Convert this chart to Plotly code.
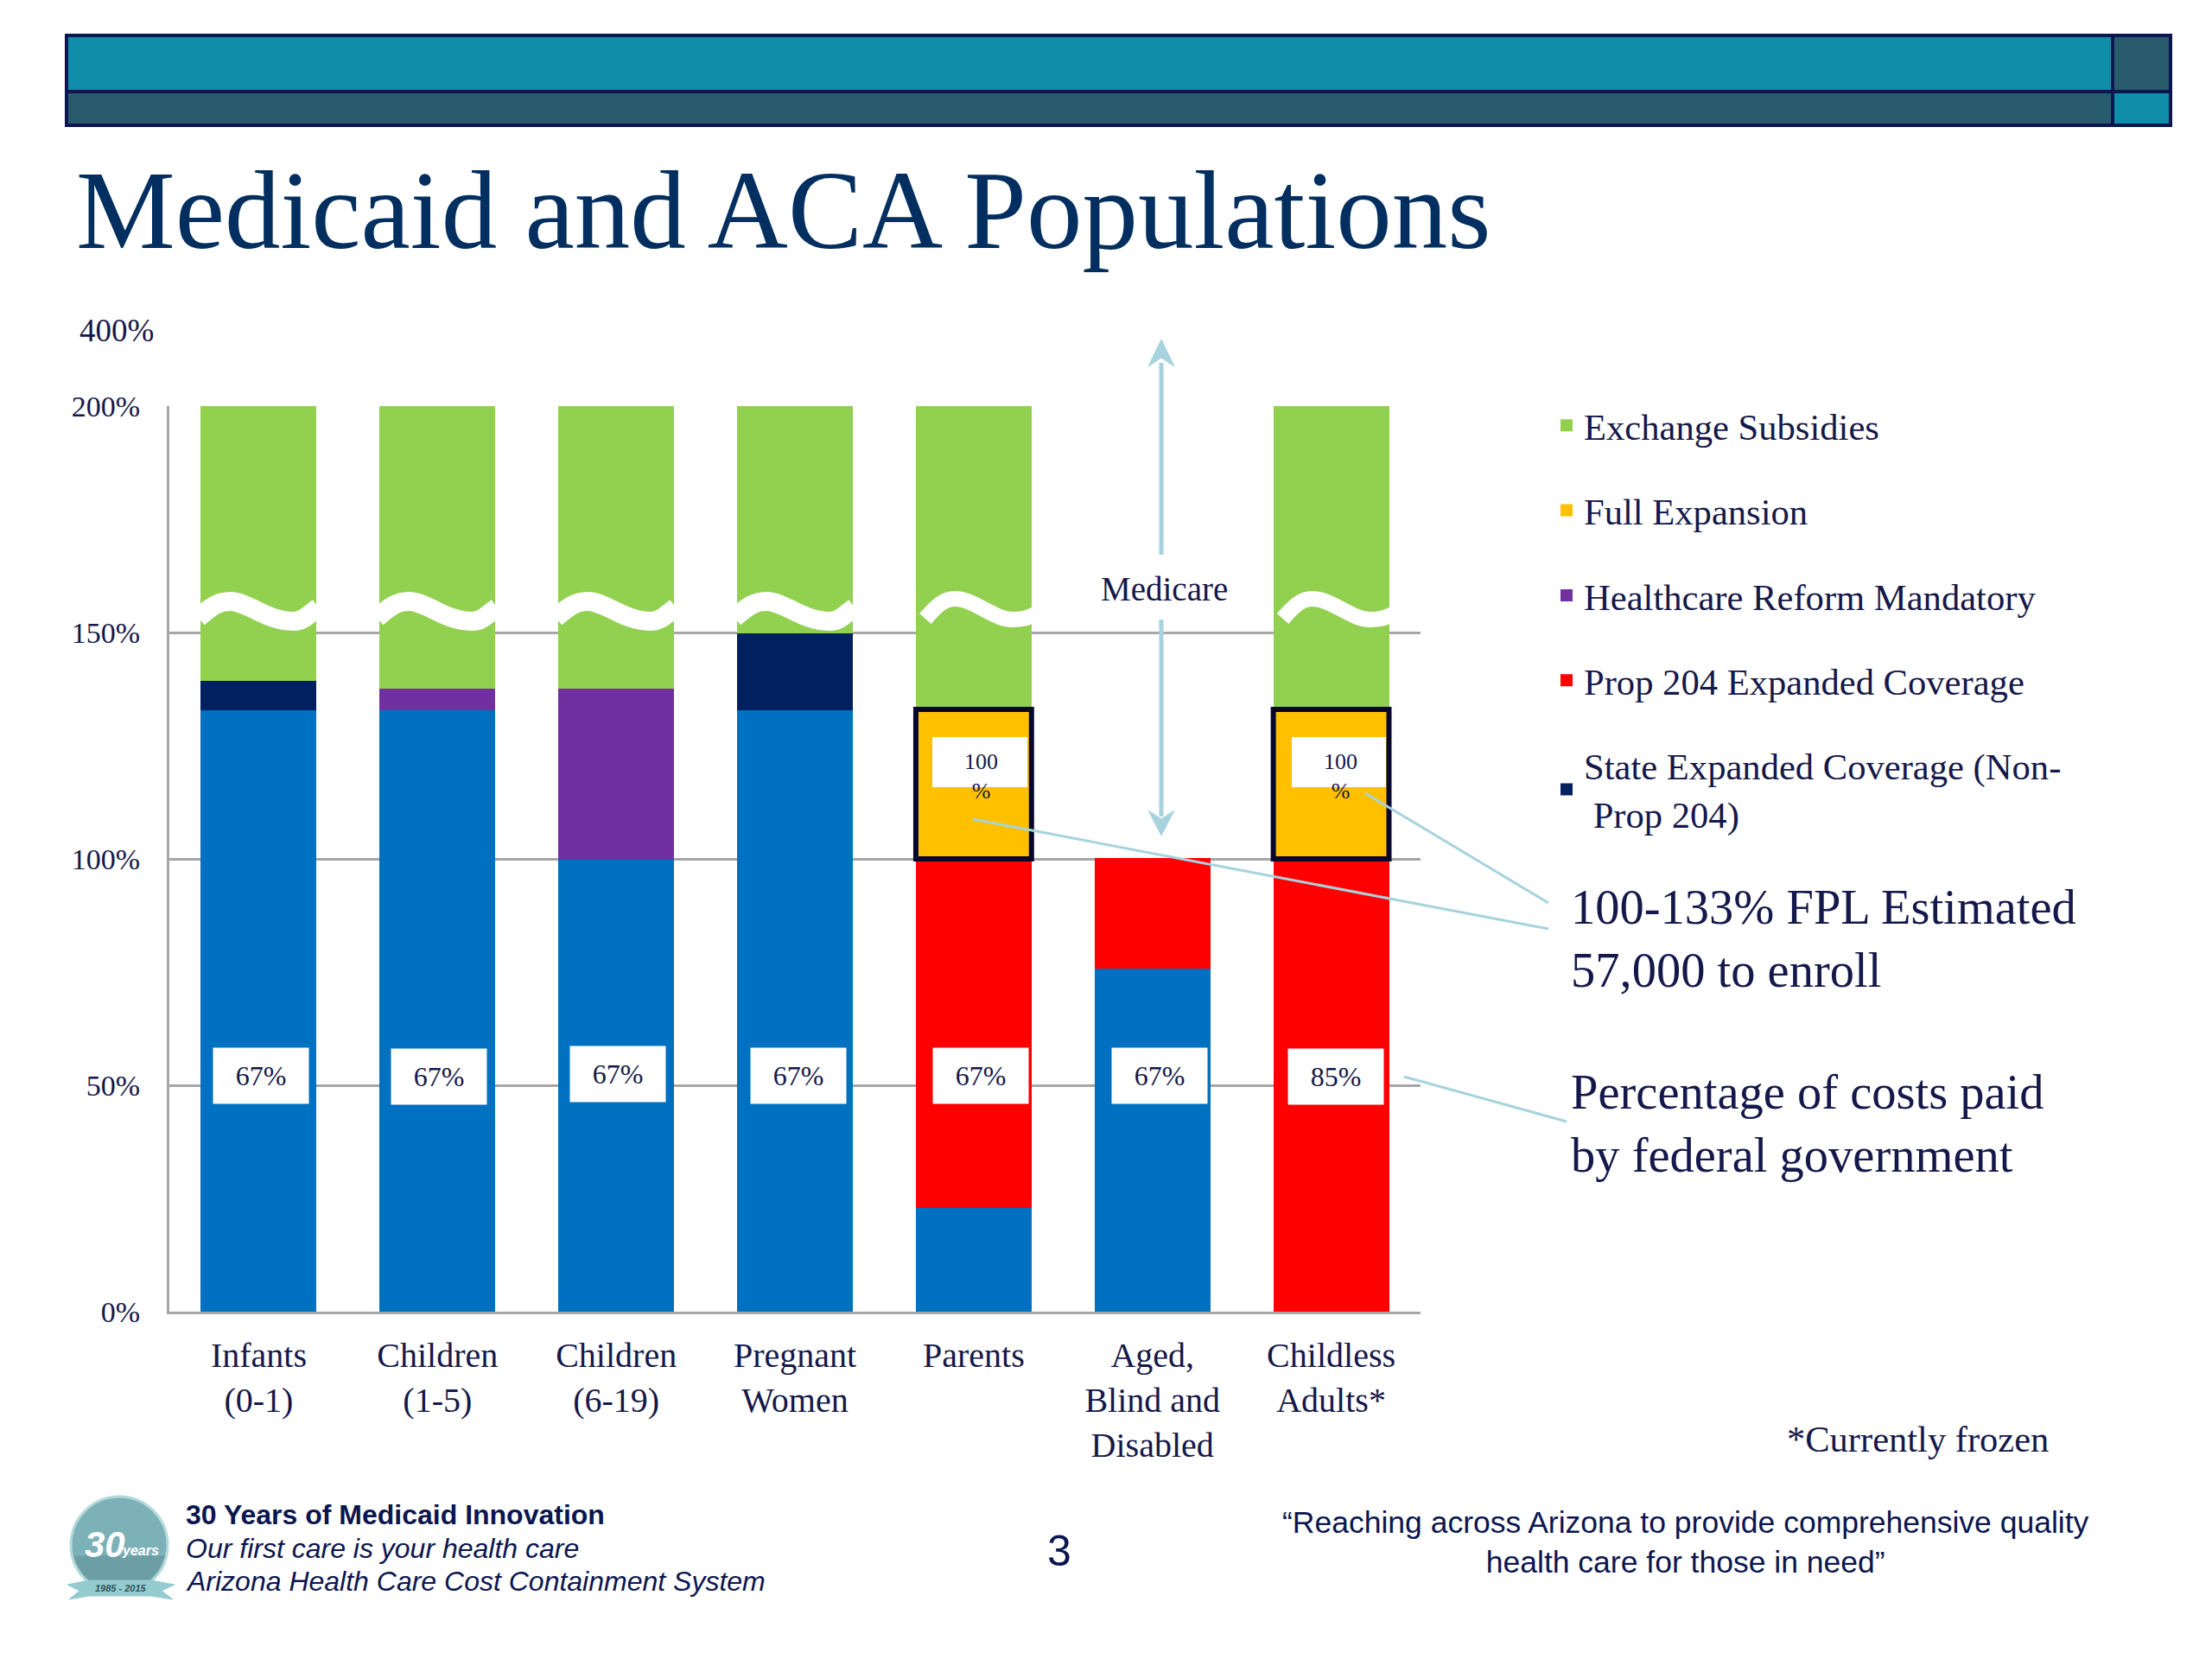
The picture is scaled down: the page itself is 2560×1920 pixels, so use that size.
import math
import plotly.graph_objects as go

# ---- data ----
categories = ["Infants<br>(0-1)", "Children<br>(1-5)", "Children<br>(6-19)", "Pregnant<br>Women",
              "Parents", "Aged,<br>Blind and<br>Disabled", "Childless<br>Adults*"]
medicaid_base = [133, 133, 100, 133, 23, 76, 0]
state_expanded = [6.6, 0, 0, 17, 0, 0, 0]
prop_204 = [0, 0, 0, 0, 77, 24, 100]
reform_mandatory = [0, 4.7, 37.7, 0, 0, 0, 0]
full_expansion = [0, 0, 0, 0, 33, 0, 33]
exchange = [60.4, 62.3, 62.3, 50, 67, 0, 67]
federal_share = ["67%", "67%", "67%", "67%", "67%", "67%", "85%"]
y_ticks = [0, 50, 100, 150, 200]
y_tick_labels = ["0%", "50%", "100%", "150%", "200%"]

# ---- layout constants (pixels on the 2560x1920 page) ----
L, R, T, B = 196, 1644, 470, 1518
SERIF, SANS = "Liberation Serif", "Liberation Sans"
INK, NAVY = "#15184A", "#0B1650"
ARROW = "#A6D3DD"
TEAL, SLATE = "#108DA8", "#285B6B"
BAR_HALF = 0.3235


def px(x):
    return (x - L) / (R - L)


def py(y):
    return (B - y) / (B - T)


def path(points):
    return "M" + " L".join(f"{px(x):.5f},{py(y):.5f}" for x, y in points) + " Z"


def rect(x0, y0, x1, y1, fill, line=None, width=0):
    return dict(type="rect", xref="paper", yref="paper", x0=px(x0), x1=px(x1), y0=py(y0), y1=py(y1),
                fillcolor=fill, line=dict(color=line or fill, width=width), layer="above")


def seg(x0, y0, x1, y1, color=ARROW, width=3):
    return dict(type="line", xref="paper", yref="paper", x0=px(x0), x1=px(x1), y0=py(y0), y1=py(y1),
                line=dict(color=color, width=width), layer="above")


def poly(points, fill):
    return dict(type="path", xref="paper", yref="paper", path=path(points), fillcolor=fill,
                line=dict(color=fill, width=1), layer="above")


def curve(x, pts, width):
    p = [f"{px(x + a):.5f},{py(b):.5f}" for a, b in pts]
    d = f"M{p[0]} C{p[1]} {p[2]} {p[3]} C{p[4]} {p[5]} {p[6]} C{p[7]} {p[8]} {p[9]}"
    return dict(type="path", xref="paper", yref="paper", path=d, line=dict(color="white", width=width), layer="above")


def note(x, y, text, size=40, family=SERIF, color=INK, anchor="left", **kw):
    return dict(xref="paper", yref="paper", x=px(x), y=py(y), text=text, showarrow=False, xanchor=anchor,
                yanchor="middle", align=anchor,
                font=dict(size=size, family=family, color=color), **kw)


fig = go.Figure()
series = [
    ("Medicaid", medicaid_base, "#0070C0", False, 6),
    ("State Expanded Coverage (Non-<br> Prop 204)", state_expanded, "#002060", True, 5),
    ("Prop 204 Expanded Coverage", prop_204, "#FF0000", True, 4),
    ("Healthcare Reform Mandatory", reform_mandatory, "#7030A0", True, 3),
    ("Full Expansion", full_expansion, "#FFC000", True, 2),
    ("Exchange Subsidies", exchange, "#92D050", True, 1),
]
for name, vals, color, show, rank in series:
    fig.add_trace(go.Bar(x=categories, y=[v or None for v in vals], name=name,
                         marker=dict(color=color, line=dict(width=2, color=color)),
                         showlegend=show, legendgroup=name, legendrank=rank, hoverinfo="name+y"))

shapes = [
    rect(77, 41, 2445, 106, TEAL, NAVY, 4),
    rect(2445, 41, 2512, 106, SLATE, NAVY, 4),
    rect(77, 106, 2445, 145, SLATE, NAVY, 4),
    rect(2445, 106, 2512, 145, TEAL, NAVY, 4),
]

# break marks on the tall bars: the first four start at the bar edge, the last two are set in a little
wave_wide = [(-3, 715), (12, 702), (20, 696), (34, 696), (55, 696), (75, 719), (107, 719), (118, 719), (124, 712), (136, 703)]
wave_inset = [(11, 716), (25, 700), (33, 693), (45, 693), (68, 693), (90, 717), (112, 717), (122, 717), (128, 716), (140, 710)]
step = (R - L) / 7
for i, top in enumerate(exchange):
    if top:
        x = L + step * i + step / 2 - 67
        shapes.append(curve(x, wave_wide, 22) if i < 4 else curve(x, wave_inset, 18))

# outline round the Full Expansion segments
for i, v in enumerate(full_expansion):
    if v:
        base = medicaid_base[i] + state_expanded[i] + prop_204[i] + reform_mandatory[i]
        shapes.append(dict(type="rect", xref="x", yref="y", x0=i - BAR_HALF, x1=i + BAR_HALF, y0=base, y1=base + v,
                           fillcolor="rgba(0,0,0,0)", line=dict(color="#07072E", width=6), layer="above"))

# logo pieces
disc = [(138 + 54 * math.cos(math.radians(a)), 1787 + 54 * math.sin(math.radians(a))) for a in range(15, 166, 10)]
shapes += [
    rect(1079, 853, 1189, 911, "white"),
    rect(1495, 853, 1604, 911, "white"),
    seg(1344, 642, 1344, 420, width=5),
    seg(1344, 717, 1344, 945, width=5),
    poly([(1329, 424), (1344, 393), (1359, 424), (1344, 414)], ARROW),
    poly([(1329, 938), (1344, 967), (1359, 938), (1344, 948)], ARROW),
    seg(1126, 948, 1792, 1075),
    seg(1580, 918, 1792, 1045),
    seg(1625, 1246, 1813, 1298),
    dict(type="circle", xref="paper", yref="paper", x0=px(82), x1=px(194), y0=py(1732), y1=py(1844),
         fillcolor="#7BB1B7", line=dict(color="#B4D9DB", width=3), layer="above"),
    poly(disc, "#6B9EA5"),
    poly([(78, 1834), (103, 1829), (175, 1829), (202, 1834), (187, 1841), (200, 1851),
          (175, 1847), (103, 1847), (80, 1851), (92, 1841)], "#93CBCF"),
]

label_x = [302, 508, 715, 924, 1135, 1342, 1546]
label_y = [1245, 1246, 1243, 1245, 1245, 1245, 1246]
annotations = [
    note(lx, ly, t, size=32, anchor="center", bgcolor="white", width=108, height=62)
    for lx, ly, t in zip(label_x, label_y, federal_share)
]
annotations += [
    note(1135, 898, "100<br>%", size=26, anchor="center"),
    note(1551, 898, "100<br>%", size=26, anchor="center"),
    note(180, 382, "400%", size=37, anchor="right"),
    note(1347, 681, "Medicare", size=39, anchor="center"),
    note(1816, 1086, "100-133% FPL Estimated<br>57,000 to enroll", size=56.5),
    note(1816, 1300, "Percentage of costs paid<br>by federal government", size=56.5),
    note(2066, 1665, "*Currently frozen", size=42.5),
    note(213, 1753, "<b>30 Years of Medicaid Innovation</b>", size=32, family=SANS, color=NAVY),
    note(213, 1792, "<i>Our first care is your health care</i>", size=32, family=SANS, color=NAVY),
    note(213, 1830, "<i>Arizona Health Care Cost Containment System</i>", size=32, family=SANS, color=NAVY),
    note(1226, 1795, "3", size=50, family=SANS, color=NAVY, anchor="center"),
    note(1951, 1785, "“Reaching across Arizona to provide comprehensive quality<br>health care for those in need”",
         size=35.5, family=SANS, color=NAVY, anchor="center"),
    note(121, 1787, "<b><i>30</i></b>", size=42, family=SANS, color="white", anchor="center"),
    note(162, 1795, "<b><i>years</i></b>", size=16, family=SANS, color="white", anchor="center"),
    note(140, 1838, "<b><i>1985 - 2015</i></b>", size=11, family=SANS, color="#2F5559", anchor="center"),
]

fig.update_layout(
    width=2560, height=1920, autosize=False,
    margin=dict(l=L, r=2560 - R, t=T, b=1920 - B, pad=0),
    paper_bgcolor="white", plot_bgcolor="white",
    barmode="stack", bargap=0.362,
    title=dict(text="Medicaid and ACA Populations", x=88 / 2560, xanchor="left", xref="container",
               y=1 - 242 / 1920, yanchor="middle", yref="container",
               font=dict(size=129, family=SERIF, color="#022F60")),
    font=dict(family=SERIF, color=INK),
    xaxis=dict(type="category", categoryorder="array", categoryarray=categories, showgrid=False,
               showline=True, linecolor="#A6A6A6", linewidth=3, ticks="", ticklabelstandoff=13,
               tickfont=dict(size=40, family=SERIF, color=INK), range=[-0.5, 6.5]),
    yaxis=dict(range=[0, 200], tickvals=y_ticks, ticktext=y_tick_labels, showgrid=True, gridcolor="#A6A6A6",
               gridwidth=3, zeroline=False, showline=True, linecolor="#A6A6A6", linewidth=3, ticks="",
               ticklabelstandoff=24, tickfont=dict(size=34, family=SERIF, color=INK)),
    legend=dict(x=px(1793), xanchor="left", y=py(458), yanchor="top", traceorder="grouped",
                tracegroupgap=40, font=dict(size=42.6, family=SERIF, color=INK), bgcolor="rgba(0,0,0,0)",
                itemclick=False, itemdoubleclick=False),
    shapes=shapes, annotations=annotations,
)
fig.write_html("out.html", config=dict(displayModeBar=False), post_script="document.body.style.margin='0';")
